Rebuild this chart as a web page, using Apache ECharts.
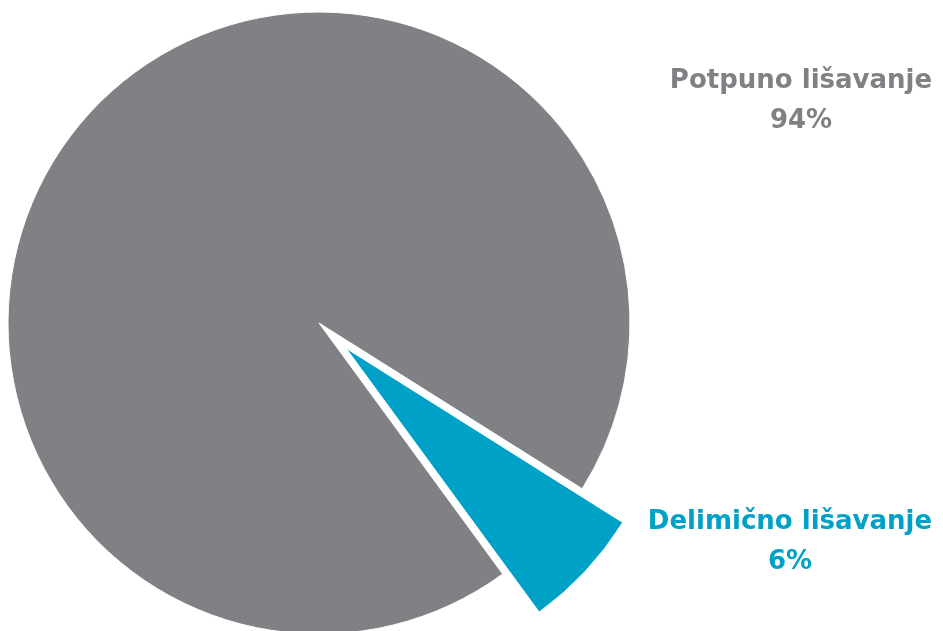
<!DOCTYPE html>
<html>
<head>
<meta charset="utf-8">
<script src="https://cdn.jsdelivr.net/npm/echarts@6/dist/echarts.min.js"></script>
<style>html,body{margin:0;padding:0;background:#fff}#c{width:943px;height:631px}</style>
</head>
<body>
<div id="c"></div>
<script>
const categories = ['Potpuno lišavanje', 'Delimično lišavanje'];
const values = [94, 6];
const colors = ['#808184', '#00A1C6'];
const labelPos = [[801, 101], [790, 542]];

const chart = echarts.init(document.getElementById('c'), null, {renderer: 'canvas'});
const total = values.reduce((a, b) => a + b, 0);

function makeData(visibleIdx) {
  return categories.map((c, i) => ({
    name: c,
    value: values[i],
    selected: i === visibleIdx && i === 1,
    itemStyle: i === visibleIdx
      ? {color: colors[i], borderColor: '#ffffff', borderWidth: 1}
      : {color: 'rgba(0,0,0,0)', borderWidth: 0}
  }));
}

const labels = categories.map((c, i) => ({
  type: 'text',
  x: labelPos[i][0],
  y: labelPos[i][1],
  silent: true,
  style: {
    text: c + '\n' + Math.round(values[i] / total * 100) + '%',
    fill: colors[i],
    font: 'bold 26px "DejaVu Sans"',
    align: 'center',
    verticalAlign: 'middle',
    lineHeight: 40
  }
}));

chart.setOption({
  animation: false,
  backgroundColor: '#ffffff',
  graphic: labels,
  series: [
    {
      type: 'pie',
      center: [319, 323],
      radius: 311,
      startAngle: -53.8,
      clockwise: true,
      silent: true,
      label: {show: false},
      labelLine: {show: false},
      data: makeData(0)
    },
    {
      type: 'pie',
      center: [319, 323],
      radius: 327,
      startAngle: -53.8,
      clockwise: true,
      silent: true,
      selectedMode: 'single',
      selectedOffset: 37,
      label: {show: false},
      labelLine: {show: false},
      data: makeData(1)
    }
  ]
});
</script>
</body>
</html>
